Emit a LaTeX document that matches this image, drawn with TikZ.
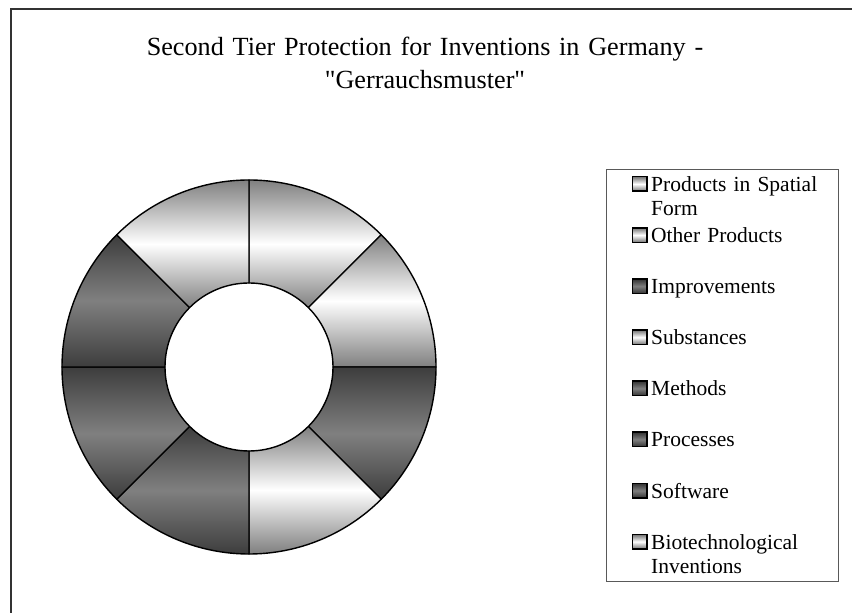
\documentclass[tikz,border=0pt]{standalone}
\usepackage{fontspec}
\setmainfont{Liberation Serif}
\font\titleplain="Liberation Serif" at 26.2pt
\begin{document}
\begin{tikzpicture}[x=1pt,y=1pt,
  seg/.style={draw=black,line width=1.4pt,line join=round},
  lightseg/.style={seg,top color=black!50,bottom color=black!50,middle color=white},
  darkseg/.style={seg,top color=black!76,bottom color=black!76,middle color=black!50},
  keybox/.style={draw=black,line width=1.5pt,minimum size=14.5pt,inner sep=0pt},
  lightkey/.style={keybox,top color=black!55,bottom color=black!55,middle color=white},
  darkkey/.style={keybox,top color=black!80,bottom color=black!80,middle color=black!50},
  lab/.style={inner sep=0pt,anchor=base west,align=left,text width=185pt,
    font=\fontsize{21.5}{24.5}\selectfont},
  frame/.style={draw=black!80,line width=2pt}]
\useasboundingbox (0,0) rectangle (852,613);
% outer frame (left and top edges visible)
\coordinate (fbl) at (11,0);
\coordinate (ftl) at (11,604);
\coordinate (ftr) at (852,604);
\draw[frame] (fbl) -- (ftl) -- (ftr);
% title
\node (title) [inner sep=0pt,anchor=base,align=center,text width=760pt,
  font=\fontsize{26.2}{33}\selectfont] at (425,557)
  {Second Tier Protection for Inventions in Germany -\\{\titleplain "}Gerrauchsmuster{\titleplain "}};
% donut
\coordinate (C) at (249,246);
\def\Ro{187}
\def\Ri{84}
\foreach \a/\b/\st in {45/90/lightseg, 0/45/lightseg, -45/0/darkseg, -90/-45/lightseg,
  -135/-90/darkseg, -180/-135/darkseg, 135/180/darkseg, 90/135/lightseg}{
  \path[\st] ([shift={(C)}]\a:\Ro) arc[start angle=\a,end angle=\b,radius=\Ro]
    -- ([shift={(C)}]\b:\Ri) arc[start angle=\b,end angle=\a,radius=\Ri] -- cycle;
}
% legend
\node (legend) [draw=black!65,line width=0.9pt,minimum width=232pt,minimum height=412pt,
  inner sep=0pt,anchor=north west] at (606,444) {};
\foreach \i/\st/\txt in {0/lightkey/{Products in Spatial\\Form}, 1/lightkey/{Other Products},
  2/darkkey/{Improvements}, 3/lightkey/{Substances}, 4/darkkey/{Methods},
  5/darkkey/{Processes}, 6/darkkey/{Software}, 7/lightkey/{Biotechnological\\Inventions}}{
  \pgfmathsetmacro{\yy}{613-184-51.1*\i}
  \node (key\i) [\st] at (639.5,\yy) {};
  \node (lab\i) [lab] at (651,\yy-7.5) {\txt};
}
\end{tikzpicture}
\end{document}
